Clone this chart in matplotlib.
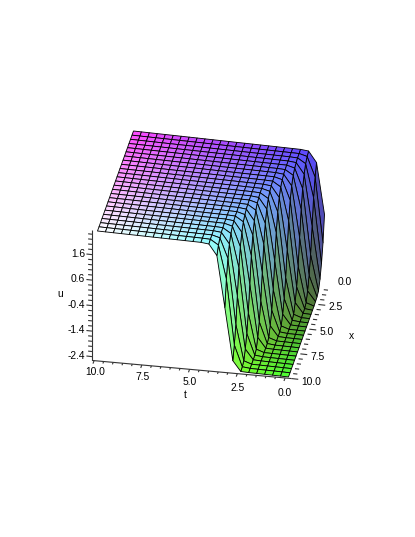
import numpy as np
import matplotlib
matplotlib.use("Agg")
import matplotlib.pyplot as plt

plt.rcParams['font.family'] = ['Liberation Sans', 'DejaVu Sans']

# Surface samples: u for each t index (t = 0, 10/24, ...), listed along x = 0 ... 10 (25 points)
HI = 2.5
LO = -2.4
u_rows = [
    [0.05, -0.9, -1.55, -2.0, -2.3, -2.37, -2.39] + [LO] * 18,
    [2.05, 1.65, 1.0, 0.05, -0.9, -1.55, -2.0, -2.3, -2.37, -2.39] + [LO] * 15,
    [2.47, 2.42, 2.3, 2.05, 1.65, 1.0, 0.05, -0.9, -1.55, -2.0, -2.3, -2.37, -2.39] + [LO] * 12,
    [HI] * 2 + [2.49, 2.47, 2.42, 2.3, 2.05, 1.65, 1.0, 0.05, -0.9, -1.55, -2.0, -2.3, -2.37, -2.39] + [LO] * 9,
    [HI] * 5 + [2.49, 2.47, 2.42, 2.3, 2.05, 1.65, 1.0, 0.05, -0.9, -1.55, -2.0, -2.3, -2.37, -2.39] + [LO] * 6,
    [HI] * 8 + [2.49, 2.47, 2.42, 2.3, 2.05, 1.65, 1.0, 0.05, -0.9, -1.55, -2.0, -2.3, -2.37, -2.39] + [LO] * 3,
    [HI] * 11 + [2.49, 2.47, 2.42, 2.3, 2.05, 1.65, 1.0, 0.05, -0.9, -1.55, -2.0, -2.3, -2.37, -2.39],
    [HI] * 14 + [2.49, 2.47, 2.42, 2.3, 2.05, 1.65, 1.0, 0.05, -0.9, -1.55, -2.0],
    [HI] * 17 + [2.49, 2.47, 2.42, 2.3, 2.05, 1.65, 1.0, 0.05],
    [HI] * 20 + [2.49, 2.47, 2.42, 2.3, 2.05],
    [HI] * 23 + [2.49, 2.47],
] + [[HI] * 25] * 14

t_values = [10 * i / 24 for i in range(25)]
x_values = [10 * j / 24 for j in range(25)]

t_major = [10.0, 7.5, 5.0, 2.5, 0.0]
x_major = [0.0, 2.5, 5.0, 7.5, 10.0]
u_major = [1.6, 0.6, -0.4, -1.4, -2.4]

T, X = np.meshgrid(t_values, x_values, indexing='ij')
U = np.array(u_rows, dtype=float)

W, H = 415, 537
fig = plt.figure(figsize=(W / 100, H / 100), dpi=100, facecolor='white')
ax = fig.add_axes([0, 0, 1, 1], projection='3d')
ax.set_axis_off()
ax.set_xticks([])
ax.set_yticks([])
ax.set_zticks([])
ax.apply_aspect()

# Camera: nearly orthographic view, expressed in image pixels
cam = np.array([
    [-19.1, -3.6, 0.0, 324.5],
    [-2.1, 10.0, -25.5, 152.0 + 25.5 * 2.5],
])
depth = np.cross(cam[0, :3], cam[1, :3])
depth = depth / np.linalg.norm(depth)
to_data = ax.transData.inverted()
o, ex, ey = to_data.transform([[0, H], [1, H], [0, H - 1]])
row_x = (ex - o)[0] * cam[0] + (ey - o)[0] * cam[1]
row_y = (ex - o)[1] * cam[0] + (ey - o)[1] * cam[1]
row_x[3] += o[0]
row_y[3] += o[1]
M = np.array([row_x, row_y, [depth[0], depth[1], depth[2], 0.0], [0, 0, 0, 1.0]])
ax.get_proj = lambda: M
ax.M = M


def shade(t, x, u):
    r = 0.3 + 0.7 * t / 10
    g = 0.28 + 0.72 * x / 10
    b = 0.2 + 0.8 * (u - LO) / (HI - LO)
    return np.clip(np.dstack([r, g, b]), 0, 1)


tc = 0.25 * (T[:-1, :-1] + T[1:, :-1] + T[:-1, 1:] + T[1:, 1:])
xc = 0.25 * (X[:-1, :-1] + X[1:, :-1] + X[:-1, 1:] + X[1:, 1:])
uc = 0.25 * (U[:-1, :-1] + U[1:, :-1] + U[:-1, 1:] + U[1:, 1:])
ax.plot_surface(T, X, U, rstride=1, cstride=1, facecolors=shade(tc, xc, uc),
                edgecolor='black', linewidth=0.62, shade=False, antialiased=True)

AX = dict(color='#333333', lw=0.8, solid_capstyle='butt')
FS = 7.4
T_LEFT, T_RIGHT = 10.29, -0.15
U_A, U_B, U_C = -2.6, -2.45, -2.5
U_TOP = 2.5


def seg(a, b):
    ax.plot([a[0], b[0]], [a[1], b[1]], [a[2], b[2]], **AX)


def label(t, x, u, s, ha='center'):
    # Text placed at the screen position of a point in (t, x, u) space
    p = np.array([t, x, u, 1.0])
    fig.text((cam[0] @ p) / W, 1 - (cam[1] @ p) / H, s, ha=ha, va='center', fontsize=FS)


def floor_t(t):
    return U_B + (U_A - U_B) * (t - T_RIGHT) / (T_LEFT - T_RIGHT)


def floor_x(x):
    return U_C + (U_B - U_C) * x / 10


# u axis
seg((T_LEFT, 10, U_A), (T_LEFT, 10, U_TOP))
for k, v in enumerate(np.arange(-2.4, 2.5, 0.2)):
    major = k % 5 == 0
    seg((T_LEFT, 10, v - 0.05), (T_LEFT + (0.29 if major else 0.2), 10, v - 0.05))
for v in u_major:
    label(10.65, 10, v - 0.05, f"{v:.1f}", ha='right')
label(11.96, 10, -0.13, "u")

# t axis
seg((T_LEFT, 10, U_A), (T_RIGHT, 10, U_B))
for k, v in enumerate(np.arange(0, 10.01, 0.5)):
    major = k % 5 == 0
    tp = v + 0.18
    seg((tp, 10, floor_t(tp)), (tp, 10 + (0.3 if major else 0.2), floor_t(tp)))
for v in t_major:
    label(0.995 * v - 0.04, 11.2, -2.55, f"{v:.1f}")
label(4.95, 12.5, -2.55, "t")

# x axis
seg((T_RIGHT, 10, U_B), (T_RIGHT, 0, U_C))
for k, v in enumerate(np.arange(0, 10.01, 0.5)):
    major = k % 5 == 0
    seg((T_RIGHT, v, floor_x(v)), (T_RIGHT - (0.36 if major else 0.22), v, floor_x(v)))
for v in x_major:
    label(-0.67, v, -2.55, f"{v:.1f}", ha='left')
label(-2.33, 5, -2.55, "x")

fig.savefig('out.png', dpi=100)
